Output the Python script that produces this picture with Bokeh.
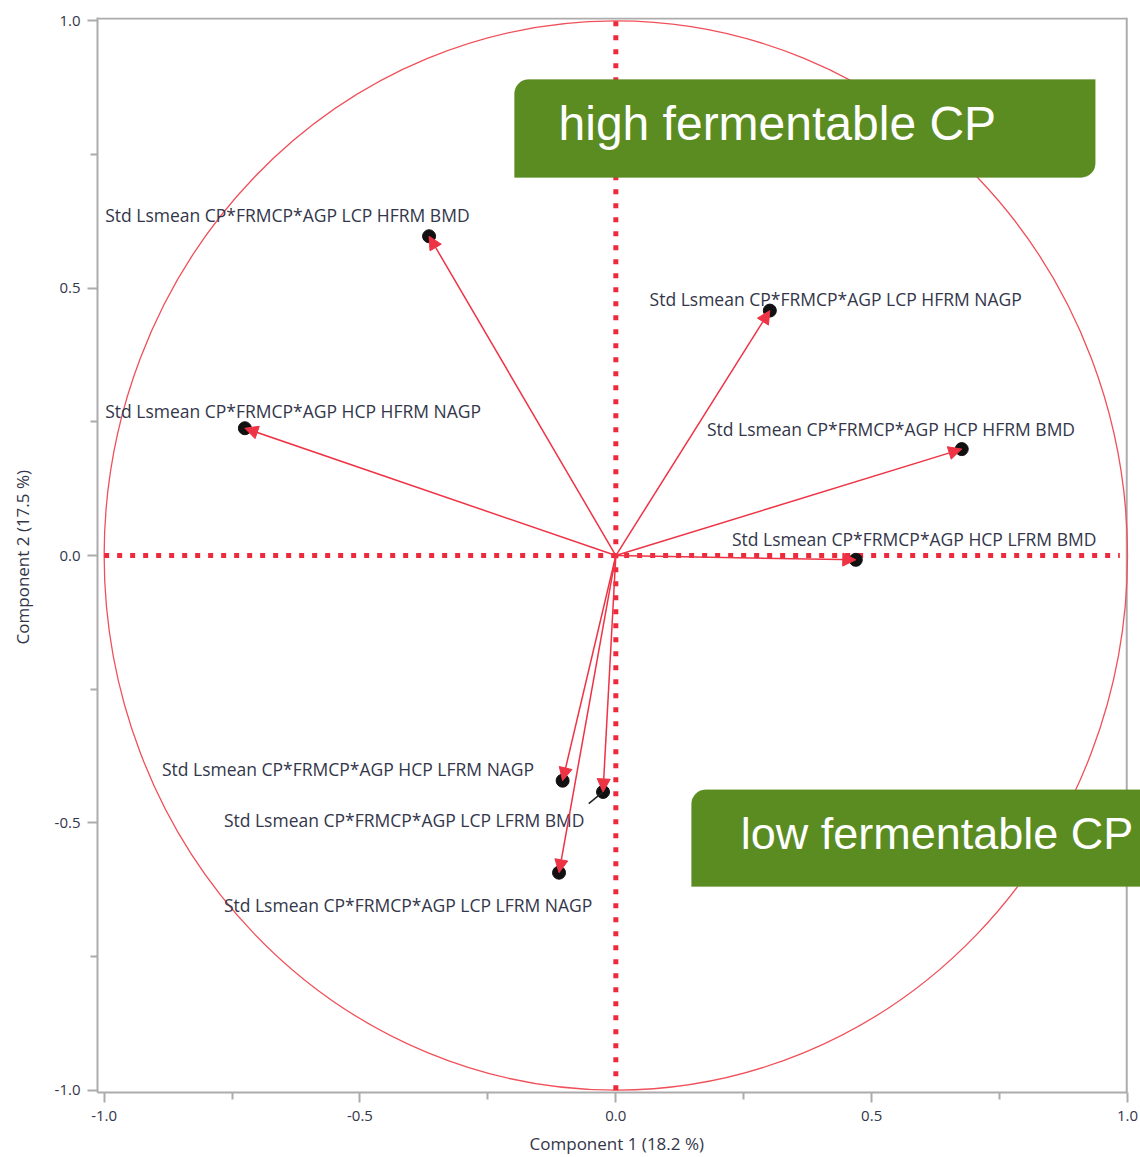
from bokeh.plotting import figure
from bokeh.models import (Range1d, FixedTicker, Arrow, NormalHead, BoxAnnotation,
                          Label, ColumnDataSource, PrintfTickFormatter)
from bokeh.core.properties import value
from bokeh.embed import file_html
from bokeh.resources import INLINE

# ---- data (loadings) ----
names = [
    "Std Lsmean CP*FRMCP*AGP LCP HFRM BMD",
    "Std Lsmean CP*FRMCP*AGP LCP HFRM NAGP",
    "Std Lsmean CP*FRMCP*AGP HCP HFRM NAGP",
    "Std Lsmean CP*FRMCP*AGP HCP HFRM BMD",
    "Std Lsmean CP*FRMCP*AGP HCP LFRM BMD",
    "Std Lsmean CP*FRMCP*AGP HCP LFRM NAGP",
    "Std Lsmean CP*FRMCP*AGP LCP LFRM BMD",
    "Std Lsmean CP*FRMCP*AGP LCP LFRM NAGP",
]
comp1 = [-0.365, 0.301, -0.725, 0.676, 0.469, -0.104, -0.025, -0.111]
comp2 = [0.597, 0.458, 0.238, 0.199, -0.008, -0.421, -0.442, -0.593]

# label anchors (annotation positions, data units)
label_x = [-0.998, 0.066, -0.998, 0.178, 0.227, -0.887, -0.766, -0.766]
label_y = [0.636, 0.479, 0.270, 0.236, 0.031, -0.399, -0.494, -0.654]

major_ticks = [-1.0, -0.5, 0.0, 0.5, 1.0]
minor_ticks = [-0.75, -0.25, 0.25, 0.75]
xlabel = "Component 1  (18.2 %)"
ylabel = "Component 2  (17.5 %)"
high_text = "high fermentable CP"
low_text = "low fermentable CP"

RED = "#ee3345"
DOT = "#ec2a3c"
GREEN = "#5b8c22"
GREY = "#acacac"
TXT = "#33364a"

XMIN, XFRAME, XMAX = -1.013, 1.0, 1.0254
YMIN, YMAX = -1.004, 1.006

p = figure(width=1140, height=1157, output_backend="svg", toolbar_location=None,
           x_range=Range1d(XMIN, XMAX), y_range=Range1d(YMIN, YMAX),
           min_border_left=97, min_border_right=0, min_border_top=17,
           min_border_bottom=65)
p.grid.visible = False
p.outline_line_color = None
p.background_fill_color = "white"

for ax in (p.xaxis[0], p.yaxis[0]):
    ax.ticker = FixedTicker(ticks=major_ticks, minor_ticks=minor_ticks)
    ax.formatter = PrintfTickFormatter(format="%.1f")
    ax.axis_line_color = GREY
    ax.axis_line_width = 2
    ax.major_tick_line_color = GREY
    ax.minor_tick_line_color = GREY
    ax.major_tick_line_width = 2
    ax.minor_tick_line_width = 2
    ax.major_tick_in = 0
    ax.major_tick_out = 10
    ax.minor_tick_in = 0
    ax.minor_tick_out = 7
    ax.major_label_text_font = "Open Sans"
    ax.major_label_text_font_size = "15px"
    ax.major_label_text_color = TXT
    ax.axis_label_text_font = "Open Sans"
    ax.axis_label_text_font_size = "17px"
    ax.axis_label_text_font_style = "normal"
    ax.axis_label_text_color = TXT

p.xaxis.bounds = (XMIN, XFRAME)
p.xaxis.axis_label = xlabel
p.yaxis.axis_label = ylabel
p.xaxis.major_label_standoff = 8
p.yaxis.major_label_standoff = 7
p.xaxis.axis_label_standoff = 8
p.yaxis.axis_label_standoff = 18

# frame border (top and right)
p.segment(x0=[XMIN, XFRAME - 0.0015], y0=[YMAX - 0.002, YMIN],
          x1=[XFRAME - 0.0015, XFRAME - 0.0015], y1=[YMAX - 0.002, YMAX],
          line_color=GREY, line_width=2)

# unit circle
p.ellipse(x=[0], y=[0], width=2, height=2, fill_color=None,
          line_color="#f0505a", line_width=1.3)

# dotted reference axes
p.segment(x0=[0], y0=[-1.0], x1=[0], y1=[1.0], line_color=DOT, line_width=5,
          line_dash="5 9")
p.segment(x0=[-1.0], y0=[0], x1=[0.985], y1=[0], line_color=DOT, line_width=5,
          line_dash="5 8")

src = ColumnDataSource(dict(x0=[0.0] * len(comp1), y0=[0.0] * len(comp1),
                            x=comp1, y=comp2, lx=label_x, ly=label_y, name=names))

# points
p.scatter("x", "y", source=src, size=13, fill_color="#111111", line_color="#111111")
p.add_layout(Arrow(x_start="x0", y_start="y0", x_end="x", y_end="y", source=src,
                   line_color=RED, line_width=1.5,
                   end=NormalHead(size=13, fill_color=RED, line_color=RED)))

# leader for LCP LFRM BMD label
p.segment(x0=[-0.053], y0=[-0.464], x1=[comp1[6]], y1=[comp2[6]],
          line_color="#222222", line_width=1.5)

p.text(x="lx", y="ly", text="name", source=src, text_font=value("Open Sans"),
       text_font_size="17.5px", text_color=TXT, text_align="left",
       text_baseline="middle")

# green call-out boxes
p.add_layout(BoxAnnotation(left=-0.198, right=0.937, top=0.890, bottom=0.707,
                           fill_color=GREEN, fill_alpha=1.0, line_color=GREEN,
                           border_radius=(14, 0, 14, 0), level="overlay"))
p.add_layout(BoxAnnotation(left=0.148, right=1.2, top=-0.438, bottom=-0.619,
                           fill_color=GREEN, fill_alpha=1.0, line_color=GREEN,
                           border_radius=(14, 0, 0, 0), level="overlay"))
p.add_layout(Label(x=-0.112, y=0.807, text=high_text, text_font="Liberation Sans",
                   text_font_size="48px", text_color="white", level="overlay",
                   text_baseline="middle", text_align="left"))
p.add_layout(Label(x=0.244, y=-0.520, text=low_text, text_font="Liberation Sans",
                   text_font_size="45px", text_color="white", level="overlay",
                   text_baseline="middle", text_align="left"))

open("out.html", "w").write(file_html(p, INLINE))
